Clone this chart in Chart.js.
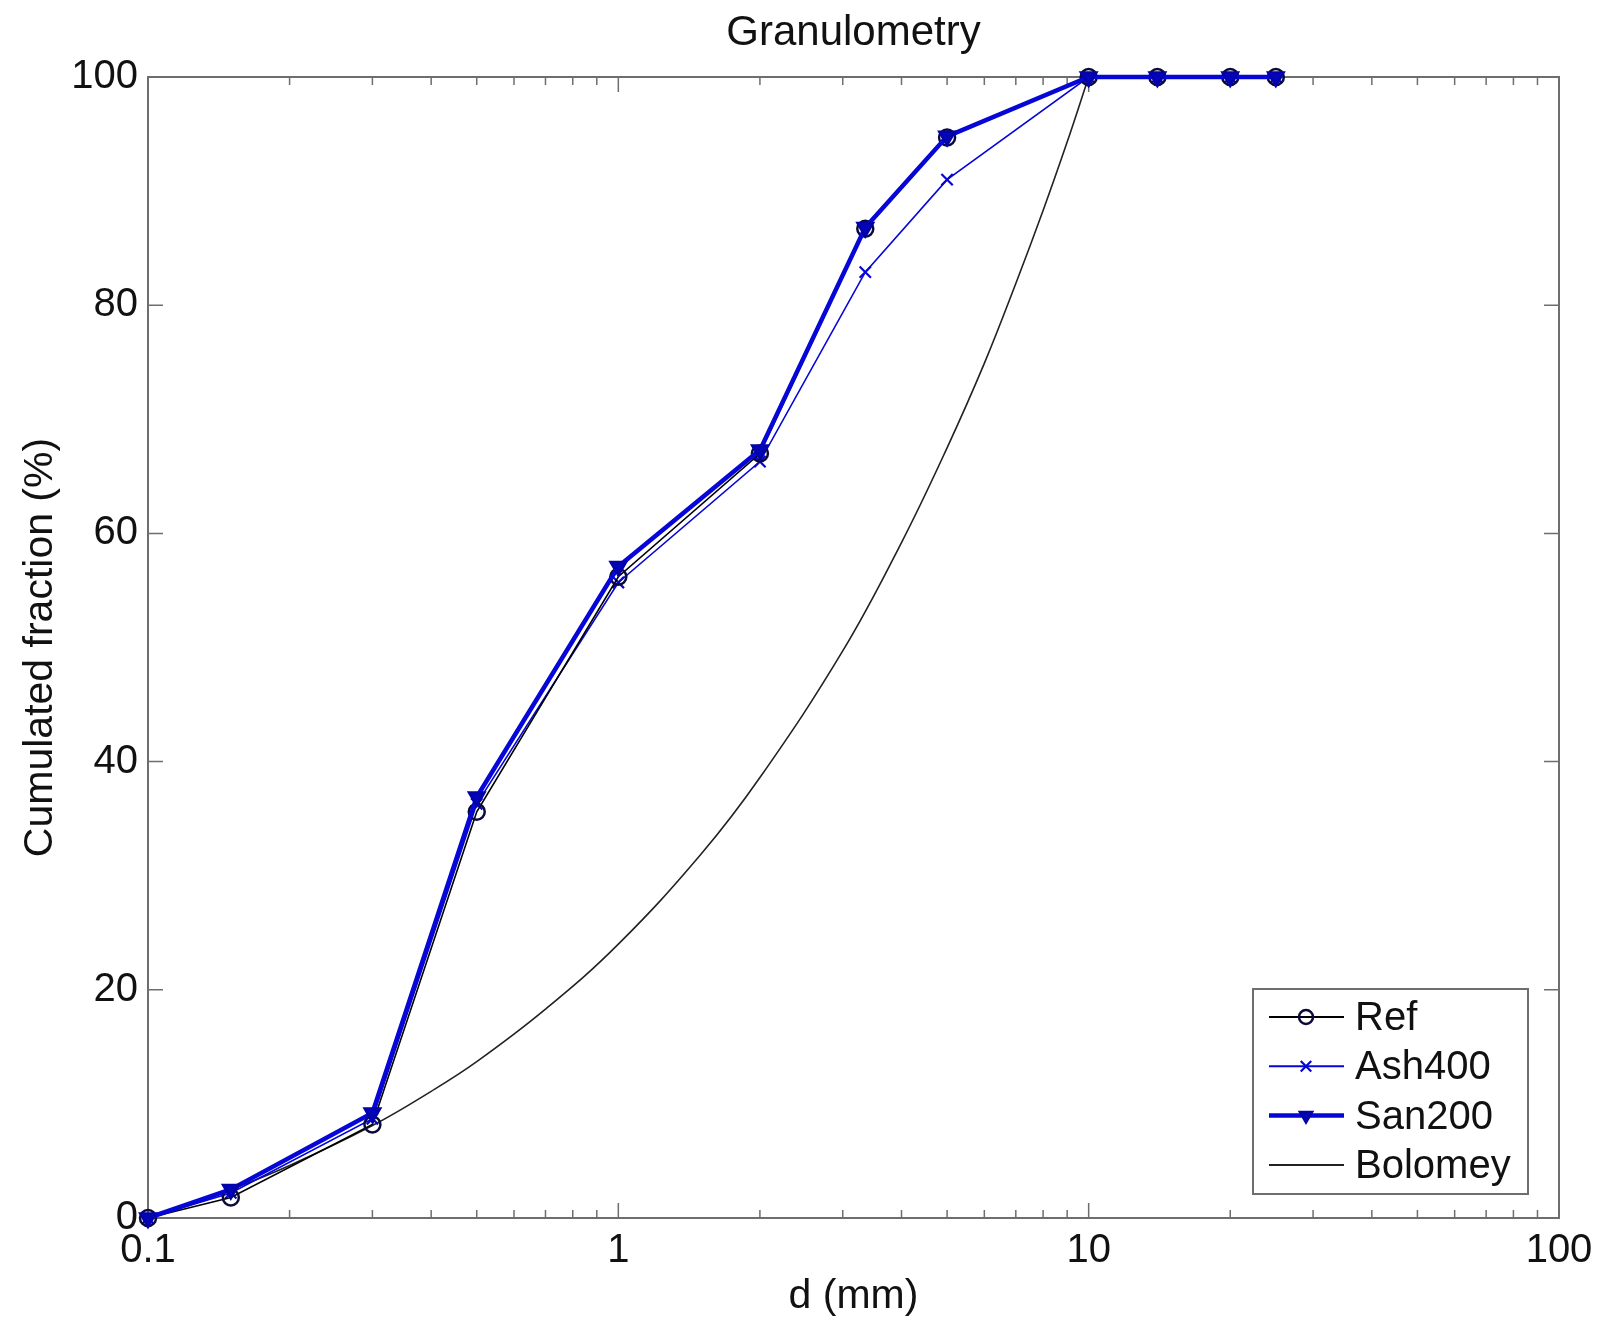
<!DOCTYPE html>
<html>
<head>
<meta charset="utf-8">
<title>Granulometry</title>
<script src="https://cdn.jsdelivr.net/npm/chart.js@4.4.1/dist/chart.umd.min.js"></script>
<style>
    html, body { margin: 0; padding: 0; background: #fff; }
    #wrap { width: 1606px; height: 1324px; }
</style>
</head>
<body>
<div id="wrap"><canvas id="granuloChart" width="1606" height="1324"></canvas></div>
<script>
// Sieve sizes (mm) and cumulated passing (%)
const sieveSizes = [0.1, 0.15, 0.3, 0.5, 1, 2, 3.35, 5, 10, 14, 20, 25];
const refPassing = [0, 1.8, 8.2, 35.6, 56.2, 67.0, 86.7, 94.7, 100, 100, 100, 100];
const ash400Passing = [0, 2.2, 8.7, 36.3, 55.7, 66.3, 82.9, 91.0, 100, 100, 100, 100];
const san200Passing = [0, 2.5, 9.2, 36.9, 57.1, 67.3, 86.8, 94.8, 100, 100, 100, 100];

// Bolomey reference curve, sampled along the drawn line
const bolomeySizes = [0.1, 0.15, 0.2, 0.3, 0.4, 0.5, 0.7, 1, 1.5, 2, 3, 4, 5, 6, 7, 8, 9, 10];
const bolomeyPassing = [0, 2.5, 4.6, 8.1, 11.1, 13.7, 18.3, 24.0, 31.9, 38.6, 49.7, 59.2, 67.5, 74.9, 81.9, 88.3, 94.3, 100];

// Axis ticks
const xTickLabels = [0.1, 1, 10, 100];
const yTickLabels = [0, 20, 40, 60, 80, 100];

const BLUE = '#0606d6';
const TEXT = '#111';
const FONT = "'Liberation Sans', Arial, sans-serif";

function toPoints(xs, ys) {
    return xs.map((x, i) => ({ x: x, y: ys[i] }));
}

// Minor log ticks 2..9 in every decade
function minorLogTicks(min, max) {
    const out = [];
    for (let dec = min; dec < max; dec *= 10) {
        for (let k = 2; k <= 9; k++) out.push(+(dec * k).toPrecision(3));
    }
    return out;
}

// MATLAB-like box with inward ticks
const frameTicks = {
    id: 'frameTicks',
    beforeDatasetsDraw(chart) {
        const { ctx, chartArea: a, scales } = chart;
        ctx.save();
        ctx.strokeStyle = '#6e6e6e';
        ctx.lineWidth = 2;
        ctx.strokeRect(a.left, a.top, a.right - a.left, a.bottom - a.top);

        ctx.lineWidth = 1.5;
        ctx.beginPath();
        const tick = (px, len, vertical) => {
            if (vertical) {
                ctx.moveTo(px, a.bottom); ctx.lineTo(px, a.bottom - len);
                ctx.moveTo(px, a.top); ctx.lineTo(px, a.top + len);
            } else {
                ctx.moveTo(a.left, px); ctx.lineTo(a.left + len, px);
                ctx.moveTo(a.right, px); ctx.lineTo(a.right - len, px);
            }
        };
        minorLogTicks(0.1, 100).forEach(v => tick(scales.x.getPixelForValue(v), 8, true));
        xTickLabels.forEach(v => tick(scales.x.getPixelForValue(v), 15, true));
        yTickLabels.forEach(v => tick(scales.y.getPixelForValue(v), 15, false));
        ctx.stroke();
        ctx.restore();
    }
};

function drawMarker(ctx, ds, x, y) {
    const r = ds.pointRadius || 0;
    if (!r) return;
    ctx.save();
    ctx.lineWidth = ds.pointBorderWidth || 1;
    ctx.strokeStyle = ds.pointBorderColor || ds.borderColor;
    ctx.fillStyle = ds.pointBackgroundColor || 'rgba(0,0,0,0)';
    ctx.beginPath();
    if (ds.pointStyle === 'circle') {
        ctx.arc(x, y, r, 0, Math.PI * 2);
        ctx.fill();
        ctx.stroke();
    } else if (ds.pointStyle === 'crossRot') {
        const d = r * 0.75;
        ctx.moveTo(x - d, y - d); ctx.lineTo(x + d, y + d);
        ctx.moveTo(x + d, y - d); ctx.lineTo(x - d, y + d);
        ctx.stroke();
    } else if (ds.pointStyle === 'triangle') {
        ctx.moveTo(x - r * 0.87, y - r * 0.5);
        ctx.lineTo(x + r * 0.87, y - r * 0.5);
        ctx.lineTo(x, y + r);
        ctx.closePath();
        ctx.fill();
        ctx.stroke();
    }
    ctx.restore();
}

// Legend box inside the plot, bottom right
const insideLegend = {
    id: 'insideLegend',
    afterDatasetsDraw(chart) {
        const { ctx, chartArea: a } = chart;
        const boxW = 275, boxH = 205;
        const x0 = a.right - 31 - boxW;
        const y0 = a.bottom - 24 - boxH;
        ctx.save();
        ctx.fillStyle = '#fff';
        ctx.fillRect(x0, y0, boxW, boxH);
        ctx.strokeStyle = '#6e6e6e';
        ctx.lineWidth = 2;
        ctx.strokeRect(x0, y0, boxW, boxH);

        ctx.font = '40px ' + FONT;
        ctx.textBaseline = 'middle';
        chart.data.datasets.forEach((ds, i) => {
            const cy = y0 + 28 + i * 49.3;
            ctx.strokeStyle = ds.borderColor;
            ctx.lineWidth = Math.max(ds.borderWidth, 2);
            ctx.beginPath();
            ctx.moveTo(x0 + 16, cy);
            ctx.lineTo(x0 + 91, cy);
            ctx.stroke();
            drawMarker(ctx, Object.assign({}, ds, { pointRadius: Math.min(ds.pointRadius, 7) }), x0 + 53, cy);
            ctx.fillStyle = TEXT;
            ctx.fillText(ds.label, x0 + 102, cy + 2);
        });
        ctx.restore();
    }
};

const ctx = document.getElementById('granuloChart').getContext('2d');
new Chart(ctx, {
    type: 'line',
    data: {
        datasets: [
            {
                label: 'Ref',
                data: toPoints(sieveSizes, refPassing),
                borderColor: '#000',
                borderWidth: 1.6,
                pointStyle: 'circle',
                pointRadius: 8,
                pointBorderWidth: 2.5,
                pointBorderColor: '#0b0b3a',
                pointBackgroundColor: 'rgba(0,0,0,0)',
                order: 1,
                clip: false
            },
            {
                label: 'Ash400',
                data: toPoints(sieveSizes, ash400Passing),
                borderColor: BLUE,
                borderWidth: 1.6,
                pointStyle: 'crossRot',
                pointRadius: 8,
                pointBorderWidth: 2.2,
                pointBorderColor: BLUE,
                order: 2,
                clip: false
            },
            {
                label: 'San200',
                data: toPoints(sieveSizes, san200Passing),
                borderColor: BLUE,
                borderWidth: 4.5,
                pointStyle: 'triangle',
                pointRotation: 180,
                pointRadius: 9,
                pointBorderWidth: 2.5,
                pointBorderColor: '#0303a8',
                pointBackgroundColor: '#0404b8',
                order: 0,
                clip: false
            },
            {
                label: 'Bolomey',
                data: toPoints(bolomeySizes, bolomeyPassing),
                borderColor: '#222',
                borderWidth: 1.6,
                pointRadius: 0,
                tension: 0.4,
                order: 3,
                clip: false
            }
        ]
    },
    options: {
        responsive: false,
        animation: false,
        layout: { padding: { top: 0, right: 47, bottom: 0, left: 0 } },
        scales: {
            x: {
                type: 'logarithmic',
                min: 0.1,
                max: 100,
                afterBuildTicks: (scale) => { scale.ticks = xTickLabels.map(v => ({ value: v })); },
                afterFit: (scale) => { scale.height = 106; },
                ticks: {
                    callback: (v) => String(v),
                    autoSkip: false,
                    maxRotation: 0,
                    padding: 9,
                    color: TEXT,
                    font: { family: FONT, size: 40 }
                },
                grid: { display: false, drawTicks: false },
                border: { display: false },
                title: {
                    display: true,
                    text: 'd (mm)',
                    color: TEXT,
                    font: { family: FONT, size: 41 },
                    padding: { top: 0, bottom: 3 }
                }
            },
            y: {
                min: 0,
                max: 100,
                afterBuildTicks: (scale) => { scale.ticks = yTickLabels.map(v => ({ value: v })); },
                afterFit: (scale) => { scale.width = 148; },
                ticks: {
                    padding: 10,
                    color: TEXT,
                    font: { family: FONT, size: 40 }
                },
                grid: { display: false, drawTicks: false },
                border: { display: false },
                title: {
                    display: true,
                    text: 'Cumulated fraction (%)',
                    color: TEXT,
                    font: { family: FONT, size: 41 },
                    padding: { top: 16, bottom: 0 }
                }
            }
        },
        plugins: {
            legend: { display: false },
            tooltip: { enabled: false },
            title: {
                display: true,
                text: 'Granulometry',
                fullSize: false,
                color: TEXT,
                font: { family: FONT, size: 42, weight: 'normal' },
                padding: { top: 8, bottom: 18.6 }
            }
        }
    },
    plugins: [frameTicks, insideLegend]
});
</script>
</body>
</html>
